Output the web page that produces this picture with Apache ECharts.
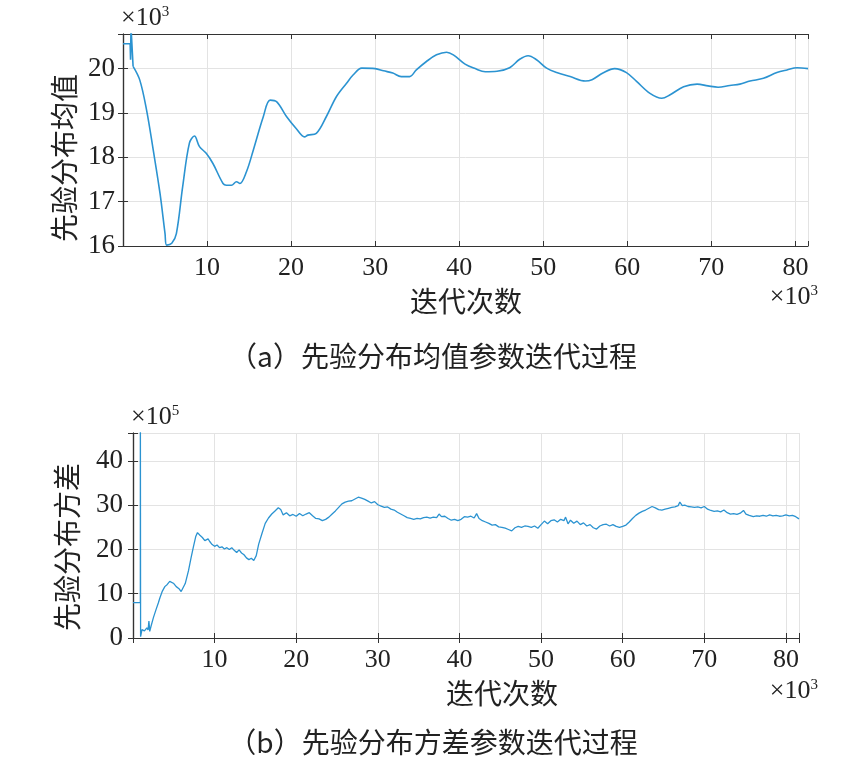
<!DOCTYPE html>
<html>
<head>
<meta charset="utf-8">
<script src="https://cdn.jsdelivr.net/npm/echarts@6/dist/echarts.min.js"></script>
<style>
  html, body { margin: 0; padding: 0; background: #fff; }
  #main { width: 868px; height: 778px; }
</style>
</head>
<body>
<div id="main"></div>
<script>
// 上图：先验分布均值（×10^3），x 为迭代次数（×10^3）
var meanStart = [[0, 20.56], [0.85, 20.56], [0.9, 20.2], [0.95, 20.95], [1.2, 20.05]];
var meanX = [1.2, 2.0, 2.8, 3.6, 4.4, 5.0, 5.2, 5.8, 6.35, 7.1, 7.9, 8.5, 9.1, 9.9, 10.7, 11.9, 12.3, 12.9, 13.5, 13.9,
  14.7, 15.5, 16.7, 17.5, 18.3, 19.45, 20.6, 21.6, 22.0, 23.0, 24.2, 25.4, 26.6, 27.4, 28.4, 30.0, 31.0, 32.1, 33.1, 34.1,
  34.9, 36.1, 37.3, 38.5, 39.3, 40.7, 41.9, 43.1, 44.5, 46.0, 47.2, 48.2, 49.2, 50.4, 51.6, 53.2, 55.0, 55.8, 57.1, 58.5,
  59.9, 61.1, 62.7, 64.1, 65.1, 66.7, 68.3, 69.6, 70.8, 72.2, 73.4, 74.6, 76.2, 77.8, 79.0, 80.2, 81.5];
var meanY = [20.05, 19.74, 19.07, 18.16, 17.19, 16.28, 16.02, 16.06, 16.28, 17.34, 18.32, 18.48, 18.24, 18.09, 17.86, 17.41, 17.37, 17.37, 17.45, 17.41,
  17.68, 18.16, 18.92, 19.29, 19.25, 18.92, 18.65, 18.46, 18.5, 18.54, 18.92, 19.37, 19.67, 19.86, 20.01, 20.0, 19.95, 19.9, 19.82, 19.82,
  19.97, 20.16, 20.31, 20.37, 20.31, 20.1, 20.0, 19.93, 19.94, 20.02, 20.21, 20.29, 20.2, 20.01, 19.91, 19.82, 19.72, 19.75, 19.9, 20.0,
  19.91, 19.71, 19.44, 19.33, 19.41, 19.59, 19.65, 19.61, 19.58, 19.62, 19.65, 19.72, 19.78, 19.91, 19.97, 20.02, 20.0];

// 下图：先验分布方差（×10^5）
var varX = [0, 0.9, 0.9, 0.93, 1.1, 1.4, 1.7, 1.85, 1.95, 2.05, 2.2, 2.5, 2.8, 3.1, 3.3, 3.6, 3.9, 4.2, 4.5, 4.7,
  5.0, 5.3, 5.6, 5.9, 6.1, 6.4, 6.8, 7.1, 7.4, 7.7, 7.9, 8.2, 8.5, 8.8, 9.0, 9.2, 9.4, 9.7, 10.0, 10.3,
  10.6, 10.9, 11.2, 11.5, 11.8, 12.1, 12.4, 12.7, 13.0, 13.3, 13.6, 13.9, 14.2, 14.5, 14.8, 15.1, 15.4, 15.8, 16.2, 16.6,
  17.0, 17.4, 17.8, 18.1, 18.4, 18.8, 19.2, 19.6, 20.0, 20.4, 20.8, 21.2, 21.6, 22.0, 22.4, 22.8, 23.2, 23.6, 24.0, 24.4,
  24.8, 25.2, 25.6, 26.0, 26.4, 26.8, 27.2, 27.6, 28.0, 28.4, 28.8, 29.2, 29.6, 30.0, 30.4, 30.8, 31.2, 31.6, 32.0, 32.4,
  32.8, 33.2, 33.6, 34.0, 34.4, 34.8, 35.2, 35.6, 36.0, 36.4, 36.8, 37.2, 37.5, 37.8, 38.2, 38.6, 39.0, 39.4, 39.8, 40.2,
  40.6, 41.0, 41.4, 41.8, 42.1, 42.4, 42.8, 43.2, 43.6, 44.0, 44.4, 44.8, 45.2, 45.6, 46.0, 46.4, 46.8, 47.2, 47.6, 48.0,
  48.4, 48.8, 49.2, 49.6, 50.0, 50.4, 50.8, 51.2, 51.6, 52.0, 52.4, 52.8, 53.0, 53.3, 53.6, 54.0, 54.4, 54.8, 55.2, 55.6,
  56.0, 56.4, 56.8, 57.2, 57.6, 58.0, 58.4, 58.8, 59.2, 59.6, 60.0, 60.4, 60.8, 61.2, 61.6, 62.0, 62.4, 62.8, 63.2, 63.6,
  64.0, 64.4, 64.8, 65.2, 65.6, 66.0, 66.4, 66.8, 67.0, 67.3, 67.6, 68.0, 68.4, 68.8, 69.2, 69.6, 70.0, 70.4, 70.8, 71.2,
  71.6, 72.0, 72.4, 72.8, 73.2, 73.6, 74.0, 74.4, 74.8, 75.1, 75.5, 76.0, 76.4, 76.8, 77.2, 77.6, 78.0, 78.4, 78.8, 79.2,
  79.6, 80.0, 80.4, 80.8, 81.2, 81.6];
var varY = [8, 8, 60, 0.3, 1.9, 1.6, 2.3, 1.8, 3.8, 1.5, 2.6, 4.6, 6.3, 7.9, 9.1, 10.6, 11.6, 12.1, 12.8, 12.5,
  12.3, 11.6, 11.2, 10.5, 10.6, 12.3, 15.2, 18.0, 20.6, 23.0, 23.8, 23.2, 22.7, 22.0, 21.6, 22.4, 21.8, 21.1, 20.7, 21.0,
  20.4, 20.6, 20.1, 20.4, 20.0, 20.4, 19.8, 19.3, 19.9, 19.2, 18.8, 18.1, 17.7, 18.0, 17.5, 18.6, 21.2, 23.6, 25.9, 27.1,
  28.0, 28.7, 29.4, 29.0, 27.8, 28.3, 27.6, 27.9, 27.5, 28.1, 27.6, 28.0, 28.3, 27.6, 27.0, 26.9, 26.5, 26.8, 27.3, 28.0,
  28.7, 29.5, 30.3, 30.7, 30.9, 31.0, 31.4, 31.8, 31.6, 31.3, 30.9, 30.5, 30.8, 30.1, 29.8, 29.5, 29.6, 29.1, 28.9, 28.4,
  28.0, 27.6, 27.2, 27.0, 26.8, 27.0, 26.9, 27.2, 27.3, 27.1, 27.3, 27.2, 28.0, 27.4, 27.5, 27.0, 26.6, 26.8, 26.5, 26.8,
  27.4, 27.3, 27.5, 27.1, 28.1, 27.0, 26.5, 26.2, 25.9, 25.5, 25.6, 25.1, 25.0, 24.8, 24.5, 24.2, 24.9, 25.2, 25.0, 25.3,
  25.2, 25.0, 25.3, 24.8, 25.6, 26.4, 25.8, 26.5, 26.7, 26.2, 26.8, 26.5, 27.3, 25.8, 26.6, 25.9, 26.4, 25.6, 26.0, 25.3,
  25.6, 24.9, 24.6, 25.3, 25.6, 25.7, 25.3, 25.6, 25.2, 25.0, 25.2, 25.5, 26.2, 27.0, 27.7, 28.2, 28.6, 28.9, 29.3, 29.7,
  29.4, 29.0, 28.9, 29.1, 29.3, 29.5, 29.6, 29.9, 30.7, 29.9, 30.0, 29.7, 29.6, 29.5, 29.6, 29.4, 29.7, 29.1, 28.8, 28.6,
  28.7, 28.5, 28.9, 28.3, 28.0, 28.1, 27.9, 28.2, 28.8, 28.0, 27.7, 27.4, 27.6, 27.5, 27.7, 27.5, 27.8, 27.6, 27.7, 27.5,
  27.6, 27.8, 27.6, 27.7, 27.4, 26.9];

var zip = function (xs, ys) { return xs.map(function (x, i) { return [x, ys[i]]; }); };

var serif = 'Liberation Serif';
var cjk = 'Noto Sans CJK SC';
var ink = '#222';
var lineColor = '#2b93d1';

function xAxes(gi, max) {
  var base = {
    type: 'value', gridIndex: gi, min: 0, max: max, interval: 10,
    axisLine: { show: true, lineStyle: { color: '#333', width: 1.2 } },
    axisTick: { show: true, inside: true, length: 5, lineStyle: { color: '#333' } },
    splitLine: { show: false }
  };
  return [
    Object.assign({}, base, {
      position: 'bottom',
      splitLine: { show: true, lineStyle: { color: '#e3e3e3', width: 1 } },
      axisLabel: {
        margin: 9, fontFamily: serif, fontSize: 26, color: ink,
        formatter: function (v) { return (v > 0 && v % 10 === 0) ? String(v) : ''; }
      }
    }),
    Object.assign({}, base, { position: 'top', axisLabel: { show: false } })
  ];
}

function yAxes(gi, min, max, interval, margin) {
  var base = {
    type: 'value', gridIndex: gi, min: min, max: max, interval: interval,
    axisLine: { show: true, lineStyle: { color: '#333', width: 1.2 } },
    axisTick: { show: true, inside: true, length: 5, lineStyle: { color: '#333' } },
    splitLine: { show: false }
  };
  return [
    Object.assign({}, base, {
      position: 'left',
      splitLine: { show: true, lineStyle: { color: '#e3e3e3', width: 1 } },
      axisLabel: {
        margin: margin, fontFamily: serif, fontSize: 27, color: ink,
        formatter: function (v) { return (Math.abs(v - Math.round(v / interval) * interval) < 1e-6) ? String(v) : ''; }
      }
    }),
    Object.assign({}, base, { position: 'right', axisLabel: { show: false } })
  ];
}

function txt(x, y, s, opt) {
  return Object.assign({
    type: 'text', x: x, y: y,
    style: { text: s, fill: ink, fontSize: 28, fontFamily: cjk, align: 'center', verticalAlign: 'middle' }
  }, opt || {});
}

function power(x, y, exp, align) {
  return {
    type: 'text', x: x, y: y,
    style: {
      text: '×10{s|' + exp + '}', fill: ink, fontSize: 26, fontFamily: serif,
      align: align, verticalAlign: 'middle',
      rich: { s: { fontSize: 15, fontFamily: serif, verticalAlign: 'top', padding: [0, 0, 12, 0], fill: ink } }
    }
  };
}

var chart = echarts.init(document.getElementById('main'));
var option = {
  animation: false,
  backgroundColor: '#fff',
  grid: [
    { left: 123, top: 34, width: 685, height: 212 },
    { left: 133, top: 433, width: 666, height: 205 }
  ],
  xAxis: xAxes(0, 81.5).concat(xAxes(1, 81.6)).map(function (a, i) {
    if (i >= 2) a.gridIndex = 1;
    return a;
  }),
  yAxis: yAxes(0, 16, 20.78, 1, 8).concat(yAxes(1, 0, 46.3, 10, 10)),
  series: [
    {
      type: 'line', xAxisIndex: 0, yAxisIndex: 0, data: meanStart, showSymbol: false,
      lineStyle: { color: lineColor, width: 1.6 }, clip: true
    },
    {
      type: 'line', xAxisIndex: 0, yAxisIndex: 0, data: zip(meanX, meanY), showSymbol: false, smooth: 0.35,
      lineStyle: { color: lineColor, width: 1.6 }, clip: true
    },
    {
      type: 'line', xAxisIndex: 2, yAxisIndex: 2, data: zip(varX, varY), showSymbol: false,
      lineStyle: { color: lineColor, width: 1.3 }, clip: true
    }
  ],
  graphic: [
    txt(64, 158, '先验分布均值', { rotation: Math.PI / 2 }),
    txt(466, 301, '迭代次数'),
    txt(433, 356, '（a）先验分布均值参数迭代过程'),
    power(121, 18, '3', 'left'),
    power(818, 297, '3', 'right'),
    txt(67, 547, '先验分布方差', { rotation: Math.PI / 2 }),
    txt(502, 693, '迭代次数'),
    txt(433, 742, '（b）先验分布方差参数迭代过程'),
    power(131, 417, '5', 'left'),
    power(818, 691, '3', 'right')
  ]
};
chart.setOption(option);
</script>
</body>
</html>
